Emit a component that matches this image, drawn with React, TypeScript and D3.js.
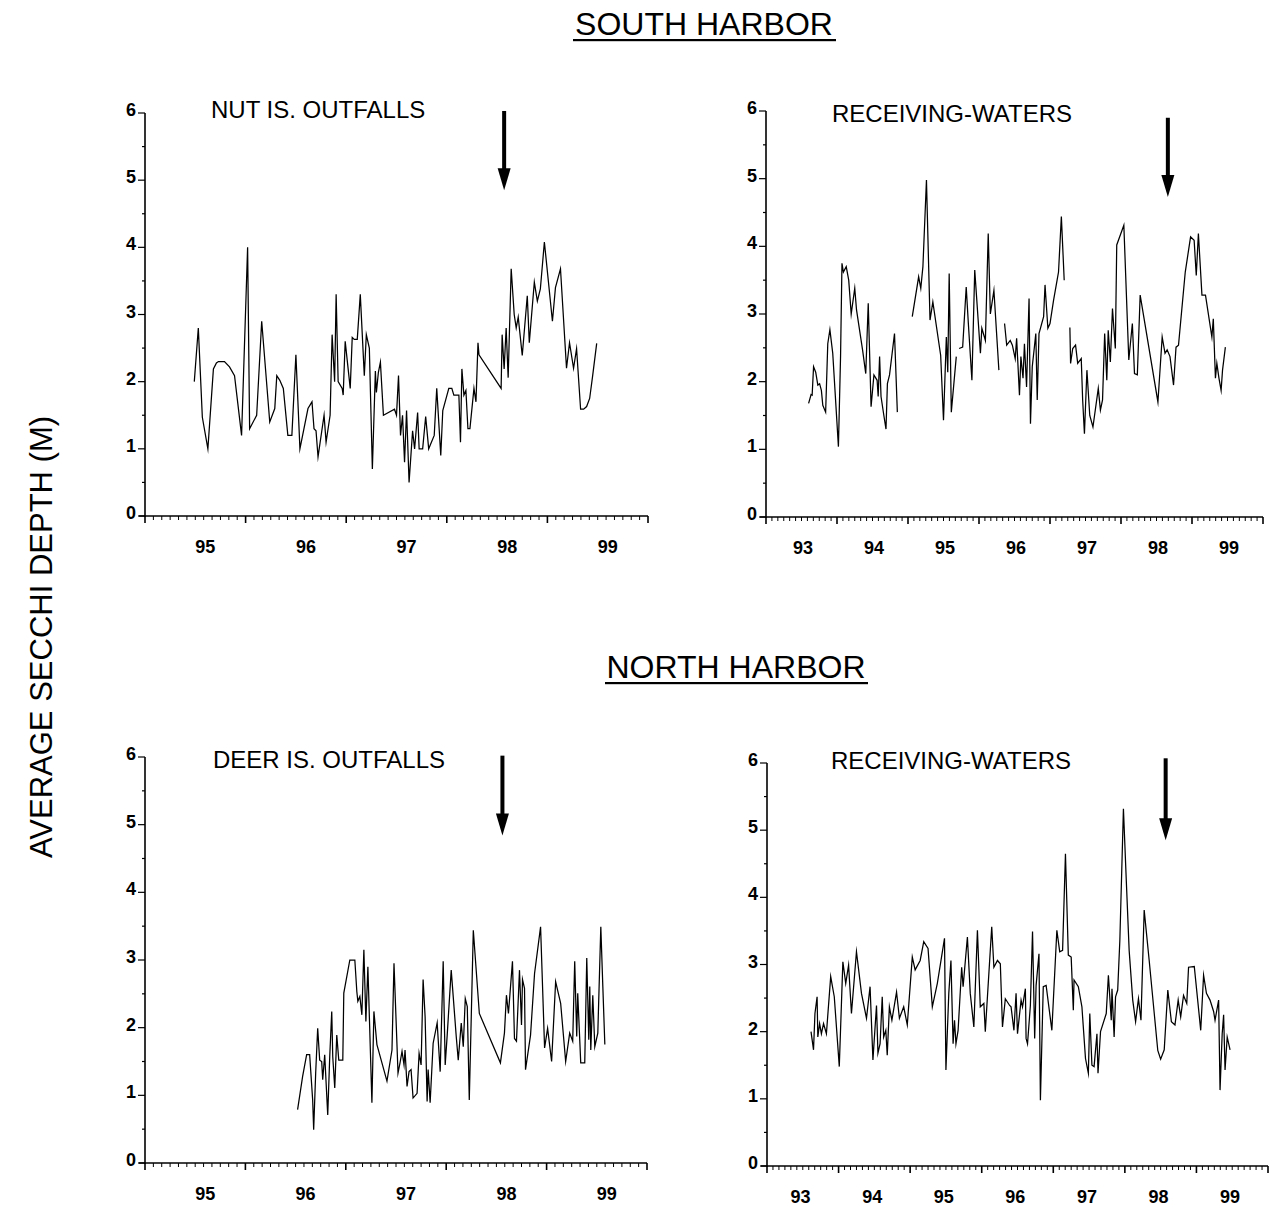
import React from 'react'
import * as d3 from 'd3'

type Pt = [number, number] | null

// average secchi depth (m) by decimal year
const NUT_IS_OUTFALLS: Pt[] = [
  [1995.49, 2.0], [1995.53, 2.8], [1995.57, 1.47], [1995.625, 1.0], [1995.68, 2.19], [1995.71, 2.28],
  [1995.73, 2.3], [1995.79, 2.3], [1995.84, 2.22], [1995.89, 2.09], [1995.96, 1.2], [1996.02, 4.0],
  [1996.04, 1.3], [1996.11, 1.5], [1996.16, 2.9], [1996.24, 1.4], [1996.29, 1.6], [1996.31, 2.09],
  [1996.34, 2.02], [1996.375, 1.9], [1996.42, 1.2], [1996.46, 1.2], [1996.5, 2.4], [1996.54, 1.0],
  [1996.62, 1.6], [1996.66, 1.7], [1996.68, 1.3], [1996.7, 1.27], [1996.72, 0.88], [1996.78, 1.5],
  [1996.8, 1.1], [1996.84, 1.5], [1996.86, 2.7], [1996.885, 2.0], [1996.9, 3.3], [1996.92, 2.0],
  [1996.96, 1.9], [1996.97, 1.8], [1996.99, 2.6], [1997.04, 1.9], [1997.06, 2.66], [1997.08, 2.63],
  [1997.11, 2.63], [1997.14, 3.3], [1997.18, 2.09], [1997.2, 2.7], [1997.23, 2.5], [1997.26, 0.7],
  [1997.29, 2.16], [1997.3, 1.84], [1997.32, 2.14], [1997.34, 2.29], [1997.37, 1.5], [1997.48, 1.59],
  [1997.5, 1.5], [1997.52, 2.09], [1997.54, 1.2], [1997.56, 1.5], [1997.58, 0.8], [1997.6, 1.57],
  [1997.625, 0.5], [1997.66, 1.27], [1997.68, 1.0], [1997.71, 1.54], [1997.725, 1.0], [1997.76, 1.0],
  [1997.79, 1.48], [1997.82, 1.0], [1997.875, 1.2], [1997.9, 1.9], [1997.94, 0.9], [1997.96, 1.57],
  [1998.02, 1.9], [1998.05, 1.9], [1998.07, 1.8], [1998.12, 1.8], [1998.136, 1.1], [1998.15, 2.19],
  [1998.17, 1.8], [1998.19, 1.87], [1998.21, 1.3], [1998.23, 1.3], [1998.27, 1.9], [1998.29, 1.7],
  [1998.31, 2.58], [1998.32, 2.4], [1998.54, 1.9], [1998.55, 2.7], [1998.57, 2.19], [1998.59, 2.8],
  [1998.61, 2.06], [1998.64, 3.68], [1998.67, 3.0], [1998.69, 2.8], [1998.71, 2.96], [1998.75, 2.39],
  [1998.8, 3.28], [1998.82, 2.58], [1998.87, 3.48], [1998.9, 3.2], [1998.93, 3.38], [1998.97, 4.08],
  [1999.05, 2.9], [1999.08, 3.4], [1999.13, 3.68], [1999.19, 2.2], [1999.22, 2.58], [1999.26, 2.2],
  [1999.29, 2.49], [1999.33, 1.59], [1999.36, 1.59], [1999.39, 1.63], [1999.42, 1.75], [1999.45, 2.09],
  [1999.49, 2.57],
]

// null = gap in the survey record
const SOUTH_RECEIVING: Pt[] = [
  [1993.6, 1.68], [1993.635, 1.81], [1993.65, 1.8], [1993.67, 2.22], [1993.7, 2.14], [1993.73, 1.95],
  [1993.755, 1.97], [1993.78, 1.87], [1993.8, 1.65], [1993.84, 1.55], [1993.87, 2.56], [1993.9, 2.77],
  [1993.94, 2.42], [1994.02, 1.04], [1994.05, 2.37], [1994.07, 3.75], [1994.09, 3.62], [1994.13, 3.7],
  [1994.165, 3.5], [1994.2, 3.0], [1994.25, 3.38], [1994.275, 3.06], [1994.36, 2.47], [1994.405, 2.12],
  [1994.44, 3.16], [1994.48, 1.63], [1994.52, 2.1], [1994.565, 2.02], [1994.58, 1.78], [1994.6, 2.37],
  [1994.62, 1.78], [1994.66, 1.5], [1994.69, 1.3], [1994.71, 1.97], [1994.74, 2.1], [1994.81, 2.71],
  [1994.85, 1.55],
  null,
  [1995.06, 2.96], [1995.15, 3.55], [1995.18, 3.38], [1995.21, 3.7], [1995.26, 4.98], [1995.31, 2.91],
  [1995.35, 3.18], [1995.46, 2.39], [1995.5, 1.43], [1995.54, 2.66], [1995.56, 2.14], [1995.58, 3.6],
  [1995.61, 1.55], [1995.68, 2.37],
  null,
  [1995.72, 2.49], [1995.77, 2.51], [1995.82, 3.4], [1995.85, 2.86], [1995.9, 2.02], [1995.94, 3.65],
  [1996.02, 2.42], [1996.04, 2.79], [1996.09, 2.61], [1996.13, 4.19], [1996.16, 3.0], [1996.21, 3.35],
  [1996.28, 2.17],
  null,
  [1996.36, 2.86], [1996.39, 2.54], [1996.44, 2.61], [1996.47, 2.54], [1996.51, 2.34], [1996.53, 2.64],
  [1996.57, 1.8], [1996.59, 2.37], [1996.62, 2.05], [1996.64, 2.56], [1996.67, 1.92], [1996.705, 3.23],
  [1996.725, 1.38], [1996.75, 2.22], [1996.78, 2.51], [1996.8, 2.71], [1996.82, 1.73], [1996.845, 2.71],
  [1996.91, 2.96], [1996.93, 3.43], [1996.97, 2.79], [1997.0, 2.86], [1997.05, 3.2], [1997.1, 3.5],
  [1997.12, 3.62], [1997.16, 4.44], [1997.2, 3.5],
  null,
  [1997.28, 2.8], [1997.29, 2.27], [1997.32, 2.49], [1997.36, 2.54], [1997.39, 2.27], [1997.44, 2.34],
  [1997.46, 1.73], [1997.485, 1.23], [1997.52, 2.17], [1997.56, 1.5], [1997.605, 1.33], [1997.68, 1.9],
  [1997.71, 1.58], [1997.74, 1.73], [1997.77, 2.71], [1997.8, 2.02], [1997.82, 2.76], [1997.85, 2.29],
  [1997.88, 3.08], [1997.92, 2.49], [1997.94, 4.02], [1998.04, 4.31], [1998.11, 2.32], [1998.16, 2.86],
  [1998.19, 2.12], [1998.23, 2.1], [1998.27, 3.28], [1998.52, 1.7], [1998.58, 2.66], [1998.62, 2.42],
  [1998.65, 2.47], [1998.69, 2.37], [1998.74, 1.95], [1998.775, 2.51], [1998.81, 2.54], [1998.905, 3.62],
  [1998.98, 4.14], [1999.03, 4.09], [1999.06, 3.57], [1999.09, 4.19], [1999.14, 3.28], [1999.19, 3.28],
  [1999.28, 2.66], [1999.3, 2.93], [1999.33, 2.05], [1999.35, 2.27], [1999.38, 2.05], [1999.41, 1.87],
  [1999.43, 2.17], [1999.47, 2.51],
]

const DEER_IS_OUTFALLS: Pt[] = [
  [1996.52, 0.79], [1996.57, 1.28], [1996.61, 1.6], [1996.64, 1.6], [1996.67, 0.93], [1996.68, 0.49],
  [1996.7, 1.33], [1996.72, 1.99], [1996.74, 1.52], [1996.76, 1.5], [1996.77, 1.23], [1996.79, 1.6],
  [1996.8, 1.3], [1996.82, 0.71], [1996.84, 1.57], [1996.86, 2.24], [1996.87, 1.57], [1996.89, 1.11],
  [1996.91, 1.89], [1996.93, 1.52], [1996.97, 1.52], [1996.98, 2.51], [1997.04, 3.0], [1997.09, 3.0],
  [1997.11, 2.53], [1997.12, 2.39], [1997.14, 2.46], [1997.16, 2.19], [1997.18, 3.15], [1997.2, 2.09],
  [1997.22, 2.9], [1997.26, 0.89], [1997.28, 2.24], [1997.31, 1.75], [1997.41, 1.21], [1997.46, 1.67],
  [1997.48, 2.95], [1997.52, 1.33], [1997.54, 1.48], [1997.56, 1.65], [1997.58, 1.45], [1997.59, 1.67],
  [1997.61, 1.13], [1997.63, 1.35], [1997.65, 1.38], [1997.67, 0.96], [1997.71, 1.03], [1997.73, 1.62],
  [1997.75, 1.45], [1997.77, 2.71], [1997.79, 2.16], [1997.81, 0.91], [1997.82, 1.38], [1997.84, 0.89],
  [1997.87, 1.77], [1997.91, 2.07], [1997.94, 1.35], [1997.97, 2.98], [1997.99, 1.45], [1998.01, 1.89],
  [1998.05, 2.85], [1998.1, 1.87], [1998.12, 1.52], [1998.15, 2.07], [1998.17, 1.72], [1998.19, 2.43],
  [1998.21, 2.31], [1998.23, 0.93], [1998.27, 3.44], [1998.33, 2.21], [1998.54, 1.48], [1998.58, 1.92],
  [1998.6, 2.48], [1998.62, 2.21], [1998.66, 2.98], [1998.68, 1.84], [1998.7, 1.8], [1998.73, 2.85],
  [1998.75, 2.04], [1998.76, 2.71], [1998.78, 2.58], [1998.79, 1.38], [1998.84, 1.89], [1998.88, 2.8],
  [1998.94, 3.49], [1998.98, 1.7], [1999.01, 1.99], [1999.05, 1.5], [1999.09, 2.68], [1999.14, 2.36],
  [1999.19, 1.5], [1999.23, 1.92], [1999.26, 1.8], [1999.28, 2.98], [1999.3, 1.87], [1999.31, 2.51],
  [1999.34, 1.48], [1999.38, 1.48], [1999.4, 3.03], [1999.42, 1.82], [1999.43, 2.61], [1999.44, 1.67],
  [1999.46, 2.48], [1999.48, 1.72], [1999.51, 1.92], [1999.54, 3.49], [1999.56, 2.61], [1999.58, 1.75],
]

const NORTH_RECEIVING: Pt[] = [
  [1993.615, 2.0], [1993.65, 1.73], [1993.67, 2.27], [1993.7, 2.52], [1993.71, 1.92], [1993.735, 2.12],
  [1993.76, 1.97], [1993.79, 2.12], [1993.83, 1.97], [1993.89, 2.82], [1993.94, 2.52], [1994.01, 1.48],
  [1994.06, 3.04], [1994.1, 2.72], [1994.14, 2.99], [1994.18, 2.27], [1994.25, 3.19], [1994.32, 2.57],
  [1994.39, 2.2], [1994.44, 2.67], [1994.48, 1.58], [1994.53, 2.39], [1994.55, 1.68], [1994.58, 1.82],
  [1994.61, 2.52], [1994.63, 1.92], [1994.66, 2.02], [1994.68, 1.65], [1994.71, 2.37], [1994.745, 2.17],
  [1994.81, 2.59], [1994.85, 2.2], [1994.91, 2.37], [1994.96, 2.1], [1995.03, 3.11], [1995.07, 2.92],
  [1995.14, 3.06], [1995.19, 3.34], [1995.25, 3.24], [1995.31, 2.37], [1995.38, 2.72], [1995.48, 3.39],
  [1995.5, 1.43], [1995.54, 2.57], [1995.57, 3.06], [1995.6, 1.82], [1995.62, 2.17], [1995.64, 1.82],
  [1995.67, 2.02], [1995.72, 2.96], [1995.74, 2.67], [1995.8, 3.41], [1995.84, 2.57], [1995.89, 2.07],
  [1995.94, 3.51], [1995.98, 2.37], [1996.03, 2.42], [1996.05, 2.0], [1996.14, 3.56], [1996.17, 2.96],
  [1996.22, 3.06], [1996.26, 3.01], [1996.29, 2.07], [1996.33, 2.49], [1996.39, 2.39], [1996.41, 2.37],
  [1996.45, 2.02], [1996.48, 2.57], [1996.5, 1.97], [1996.55, 2.47], [1996.57, 2.37], [1996.61, 2.64],
  [1996.62, 1.9], [1996.64, 1.82], [1996.68, 2.39], [1996.71, 3.49], [1996.74, 1.9], [1996.76, 2.69],
  [1996.8, 3.16], [1996.82, 0.98], [1996.86, 2.67], [1996.9, 2.69], [1996.98, 2.02], [1997.05, 3.51],
  [1997.09, 3.19], [1997.13, 3.21], [1997.17, 4.65], [1997.21, 3.14], [1997.25, 3.11], [1997.28, 2.32],
  [1997.29, 2.77], [1997.35, 2.67], [1997.4, 2.37], [1997.45, 1.6], [1997.49, 1.38], [1997.51, 2.27],
  [1997.54, 1.5], [1997.57, 1.48], [1997.61, 1.97], [1997.625, 1.38], [1997.66, 2.0], [1997.74, 2.27],
  [1997.77, 2.84], [1997.81, 2.17], [1997.82, 2.64], [1997.85, 1.92], [1997.87, 2.52], [1997.9, 2.62],
  [1997.93, 3.36], [1997.98, 5.32], [1998.02, 4.25], [1998.06, 3.21], [1998.11, 2.47], [1998.15, 2.15],
  [1998.19, 2.49], [1998.225, 2.17], [1998.27, 3.81], [1998.34, 3.06], [1998.46, 1.72], [1998.5, 1.59],
  [1998.55, 1.73], [1998.6, 2.62], [1998.65, 2.15], [1998.7, 2.1], [1998.745, 2.47], [1998.78, 2.22],
  [1998.82, 2.54], [1998.865, 2.42], [1998.89, 2.96], [1998.97, 2.97], [1999.06, 2.02], [1999.1, 2.84],
  [1999.14, 2.57], [1999.19, 2.47], [1999.24, 2.3], [1999.26, 2.17], [1999.31, 2.47], [1999.33, 1.13],
  [1999.36, 1.97], [1999.38, 2.25], [1999.4, 1.43], [1999.43, 1.92], [1999.47, 1.73],
]

const YEARS_SHORT = [1995, 1996, 1997, 1998, 1999]
const YEARS_LONG = [1993, 1994, 1995, 1996, 1997, 1998, 1999]
const DEPTH_TICKS = [0, 1, 2, 3, 4, 5, 6]

const FONT = '"Liberation Sans", Arial, Helvetica, sans-serif'

interface PanelProps {
  title: string
  data: Pt[]
  years: number[]
  left: number
  right: number
  top: number
  bottom: number
  labelFrac: number
  titleX: number
  titleY: number
  arrowAt: number
  arrowTop: number
  arrowTip: number
}

const Panel = ({ title, data, years, left, right, top, bottom, labelFrac, titleX, titleY, arrowAt, arrowTop, arrowTip }: PanelProps) => {
  const x0 = years[0]
  const x1 = years[years.length - 1] + 1
  const x = d3.scaleLinear().domain([x0, x1]).range([left, right])
  const y = d3.scaleLinear().domain([0, 6]).range([bottom, top])

  const line = d3.line<Pt>()
    .defined(d => d !== null)
    .x(d => x(d![0]))
    .y(d => y(d![1]))

  const months = d3.range(0, (x1 - x0) * 12 + 1).map(i => x0 + i / 12)
  const halfSteps = d3.range(0, 13).map(i => i / 2)

  // arrow marks the mid-1998 outfall transfer
  const ax = x(arrowAt)
  const tipY = y(arrowTip)
  const topY = y(arrowTop)
  const headLen = 22

  return (
    <g>
      {/* axes */}
      <line x1={left} x2={left} y1={y(6)} y2={y(0) + 1} stroke="#000" strokeWidth={1.6} />
      <line x1={left - 6} x2={right} y1={y(0)} y2={y(0)} stroke="#000" strokeWidth={1.6} />
      {months.map((m, i) => (
        <line key={'m' + i} x1={x(m)} x2={x(m)} y1={y(0)} y2={y(0) + (i % 12 === 0 ? 7 : 4)}
          stroke="#000" strokeWidth={i % 12 === 0 ? 1.6 : 1} />
      ))}
      {halfSteps.map((v, i) => (
        <line key={'h' + i} x1={left - (i % 2 === 0 ? 7 : 3)} x2={left} y1={y(v)} y2={y(v)}
          stroke="#000" strokeWidth={1.2} />
      ))}
      {DEPTH_TICKS.map(v => (
        <text key={'yl' + v} x={left - 9} y={y(v) + 3} textAnchor="end" fontFamily={FONT}
          fontSize={18} fontWeight="bold" fill="#000">{v}</text>
      ))}
      {years.map(yr => (
        <text key={'xl' + yr} x={x(yr + labelFrac)} y={y(0) + 37} textAnchor="middle" fontFamily={FONT}
          fontSize={18} fontWeight="bold" fill="#000">{String(yr).slice(2)}</text>
      ))}

      {/* series */}
      <path d={line(data) ?? ''} fill="none" stroke="#000" strokeWidth={1.25} strokeLinejoin="miter" strokeMiterlimit={10} />

      {/* title + arrow */}
      <text x={titleX} y={titleY} fontFamily={FONT} fontSize={24} fill="#000">{title}</text>
      <rect x={ax - 2} y={topY} width={4} height={tipY - headLen - topY + 1} fill="#000" />
      <path d={`M${ax - 6.5},${tipY - headLen} L${ax + 6.5},${tipY - headLen} L${ax},${tipY} Z`} fill="#000" />
    </g>
  )
}

export default function App() {
  return (
    <svg width={1271} height={1210} style={{ position: 'absolute', left: 0, top: 0, background: '#fff' }}>
      <rect width={1271} height={1210} fill="#fff" />

      <text x={704} y={35} textAnchor="middle" fontFamily={FONT} fontSize={32} fill="#000">SOUTH HARBOR</text>
      <rect x={573} y={39} width={263} height={2.2} fill="#000" />
      <text x={736} y={678} textAnchor="middle" fontFamily={FONT} fontSize={32} fill="#000">NORTH HARBOR</text>
      <rect x={605} y={682} width={263} height={2.2} fill="#000" />

      <text transform="translate(52,637) rotate(-90)" textAnchor="middle" fontFamily={FONT} fontSize={31} fill="#000">
        AVERAGE SECCHI DEPTH (M)
      </text>

      <Panel title="NUT IS. OUTFALLS" data={NUT_IS_OUTFALLS} years={YEARS_SHORT}
        left={145} right={648} top={113} bottom={516} labelFrac={0.6}
        titleX={211} titleY={118} arrowAt={1998.57} arrowTop={6.03} arrowTip={4.85} />
      <Panel title="RECEIVING-WATERS" data={SOUTH_RECEIVING} years={YEARS_LONG}
        left={766} right={1263} top={111} bottom={517} labelFrac={0.52}
        titleX={832} titleY={122} arrowAt={1998.66} arrowTop={5.9} arrowTip={4.73} />
      <Panel title="DEER IS. OUTFALLS" data={DEER_IS_OUTFALLS} years={YEARS_SHORT}
        left={145} right={647} top={757} bottom={1163} labelFrac={0.6}
        titleX={213} titleY={768} arrowAt={1998.56} arrowTop={6.02} arrowTip={4.84} />
      <Panel title="RECEIVING-WATERS" data={NORTH_RECEIVING} years={YEARS_LONG}
        left={767} right={1268} top={763} bottom={1166} labelFrac={0.47}
        titleX={831} titleY={769} arrowAt={1998.57} arrowTop={6.07} arrowTip={4.85} />
    </svg>
  )
}
